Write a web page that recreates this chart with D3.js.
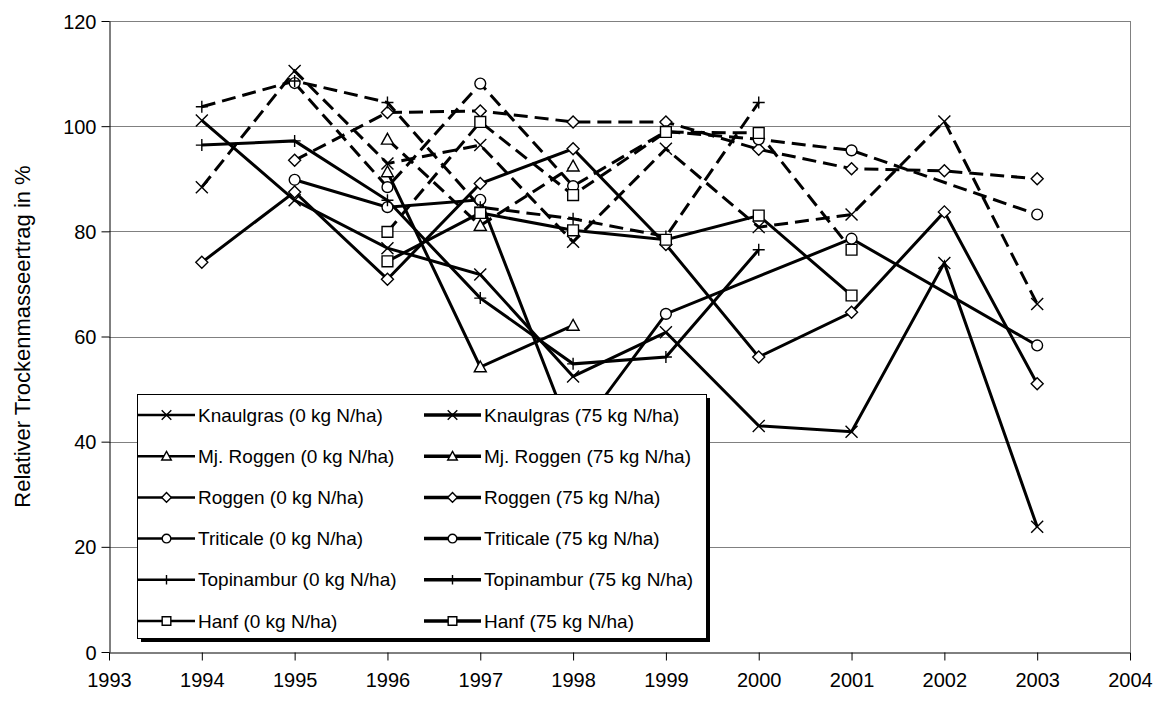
<!DOCTYPE html>
<html>
<head>
<meta charset="utf-8">
<script src="https://cdn.jsdelivr.net/npm/d3@7"></script>
<style>
  html, body { margin: 0; padding: 0; background: #fff; }
  svg { display: block; font-family: "Liberation Sans", Arial, sans-serif; }
</style>
</head>
<body>
<svg id="chart" width="1164" height="704"></svg>
<script>
// ---- data ----
const years = [1994, 1995, 1996, 1997, 1998, 1999, 2000, 2001, 2002, 2003];
const xTicks = [1993, 1994, 1995, 1996, 1997, 1998, 1999, 2000, 2001, 2002, 2003, 2004];
const yTicks = [0, 20, 40, 60, 80, 100, 120];

const knaulgras0   = [101.1, 85.9, 76.8, 71.8, 52.4, 60.8, 43.0, 41.9, 74.0, 23.8];
const knaulgras75  = [88.4, 110.5, 92.9, 96.4, 78.0, 95.7, 80.8, 83.2, 100.9, 66.2];
const mjRoggen0    = [null, null, 91.3, 54.2, 62.1, null, null, null, null, null];
const mjRoggen75   = [null, null, 97.5, 81.1, 92.4, null, null, null, null, null];
const roggen0      = [74.1, 87.5, 70.9, 89.1, 95.7, 77.5, 56.1, 64.6, 83.7, 51.0];
const roggen75     = [null, 93.5, 102.6, 102.9, 100.8, 100.8, 95.6, 91.9, 91.5, 90.0];
const triticale0   = [null, 89.8, 84.6, 86.0, 40.5, 64.3, null, 78.6, null, 58.3];
const triticale75  = [null, 108.2, 88.4, 108.1, 88.6, 99.0, 97.5, 95.4, null, 83.2];
const topinambur0  = [96.4, 97.2, 85.9, 67.3, 54.8, 56.1, 76.5, null, null, null];
const topinambur75 = [103.7, 108.6, 104.5, 84.6, 82.4, 79.0, 104.5, null, null, null];
const hanf0        = [null, null, 74.3, 83.5, 80.2, 78.4, 83.0, 67.8, null, null];
const hanf75       = [null, null, 79.9, 100.8, 86.9, 98.9, 98.7, 76.5, null, null];

const seriesNames = [
  "Knaulgras (0 kg N/ha)", "Knaulgras (75 kg N/ha)",
  "Mj. Roggen (0 kg N/ha)", "Mj. Roggen (75 kg N/ha)",
  "Roggen (0 kg N/ha)", "Roggen (75 kg N/ha)",
  "Triticale (0 kg N/ha)", "Triticale (75 kg N/ha)",
  "Topinambur (0 kg N/ha)", "Topinambur (75 kg N/ha)",
  "Hanf (0 kg N/ha)", "Hanf (75 kg N/ha)"
];
const seriesValues = [knaulgras0, knaulgras75, mjRoggen0, mjRoggen75, roggen0, roggen75,
  triticale0, triticale75, topinambur0, topinambur75, hanf0, hanf75];
const seriesMarkers = ["x", "x", "tri", "tri", "dia", "dia", "circ", "circ", "plus", "plus", "sq", "sq"];
const seriesDashed = [false, true, false, true, false, true, false, true, false, true, false, true];

// ---- layout ----
const svg = d3.select("#chart");
const x = d3.scaleLinear().domain([1993, 2004]).range([109, 1130]);
const y = d3.scaleLinear().domain([0, 120]).range([652, 21]);

// gridlines
svg.append("g").selectAll("line").data(yTicks.filter(d => d > 0)).join("line")
  .attr("x1", x(1993)).attr("x2", x(2004))
  .attr("y1", d => Math.round(y(d)) + 0.5).attr("y2", d => Math.round(y(d)) + 0.5)
  .attr("stroke", "#808080").attr("stroke-width", 1);

// right border of plot
svg.append("line")
  .attr("x1", Math.round(x(2004)) + 0.5).attr("x2", Math.round(x(2004)) + 0.5)
  .attr("y1", y(120)).attr("y2", y(0))
  .attr("stroke", "#808080").attr("stroke-width", 1);

// axes
const xAxis = svg.append("g").attr("transform", `translate(0,${Math.round(y(0)) + 0.5})`)
  .call(d3.axisBottom(x).tickValues(xTicks).tickFormat(d3.format("d")).tickSize(8).tickSizeOuter(0).tickPadding(8));
const yAxis = svg.append("g").attr("transform", `translate(${Math.round(x(1993)) + 0.5},0)`)
  .call(d3.axisLeft(y).tickValues(yTicks).tickSize(8).tickSizeOuter(0).tickPadding(5));
[xAxis, yAxis].forEach(a => {
  a.selectAll("path.domain").attr("stroke", "#000").attr("stroke-width", 1);
  a.selectAll(".tick line").attr("stroke", "#000").attr("stroke-width", 1);
  a.selectAll("text").attr("font-size", 20).attr("fill", "#000")
    .attr("font-family", "'Liberation Sans', Arial, sans-serif");
});
xAxis.selectAll("text").attr("dy", "0.9em");
yAxis.selectAll("text").attr("dy", "0.35em");

svg.append("text")
  .attr("transform", `translate(30,${(y(0) + y(120)) / 2}) rotate(-90)`)
  .attr("text-anchor", "middle")
  .attr("font-size", 22).attr("fill", "#000")
  .text("Relativer Trockenmasseertrag in %");

// marker shapes
function markerPath(type, s) {
  switch (type) {
    case "x": return `M${-s},${-s}L${s},${s}M${-s},${s}L${s},${-s}`;
    case "plus": return `M${-s},0H${s}M0,${-s}V${s}`;
    case "dia": return `M0,${-s}L${s},0L0,${s}L${-s},0Z`;
    case "sq": return `M${-s*0.9},${-s*0.9}H${s*0.9}V${s*0.9}H${-s*0.9}Z`;
    case "tri": return `M0,${-s}L${s},${s*0.8}L${-s},${s*0.8}Z`;
    case "circ": return d3.arc()({innerRadius: 0, outerRadius: s*0.9, startAngle: 0, endAngle: 2*Math.PI});
  }
}
function drawMarker(g, type, s) {
  g.append("path").attr("d", markerPath(type, s))
    .attr("fill", (type === "x" || type === "plus") ? "none" : "#fff")
    .attr("stroke", "#000").attr("stroke-width", 1.4);
}

// lines
const line = d3.line().x(d => x(d.year)).y(d => y(d.v));
const plot = svg.append("g");
seriesValues.forEach((vals, i) => {
  const pts = years.map((yr, j) => ({year: yr, v: vals[j]})).filter(d => d.v !== null);
  plot.append("path").datum(pts)
    .attr("d", line)
    .attr("fill", "none").attr("stroke", "#000")
    .attr("stroke-width", 3)
    .attr("stroke-dasharray", seriesDashed[i] ? "14,7" : null)
    .attr("stroke-linejoin", "miter");
});
seriesValues.forEach((vals, i) => {
  const pts = years.map((yr, j) => ({year: yr, v: vals[j]})).filter(d => d.v !== null);
  pts.forEach(p => {
    const g = plot.append("g").attr("transform", `translate(${x(p.year)},${y(p.v)})`);
    drawMarker(g, seriesMarkers[i], 6);
  });
});

// legend
const lg = svg.append("g");
const lx0 = 137, ly0 = 394, lw = 569, lh = 244;
lg.append("rect").attr("x", lx0 + 4).attr("y", ly0 + 4).attr("width", lw).attr("height", lh).attr("fill", "#000");
lg.append("rect").attr("x", lx0 + 0.5).attr("y", ly0 + 0.5).attr("width", lw).attr("height", lh)
  .attr("fill", "#fff").attr("stroke", "#000").attr("stroke-width", 1);
const colX = [138, 424];
seriesNames.forEach((name, i) => {
  const col = i % 2, row = Math.floor(i / 2);
  const cy = 415 + row * 41.2;
  const sx = colX[col];
  const e = lg.append("g");
  e.append("line").attr("x1", sx).attr("x2", sx + 57).attr("y1", cy).attr("y2", cy)
    .attr("stroke", "#000").attr("stroke-width", col === 0 ? 2.5 : 3.5);
  const m = e.append("g").attr("transform", `translate(${sx + 28.5},${cy})`);
  drawMarker(m, seriesMarkers[i], 4.8);
  e.append("text").attr("x", sx + 60).attr("y", cy).attr("dy", "0.35em")
    .attr("font-size", 19).attr("fill", "#000").text(name);
});
</script>
</body>
</html>
